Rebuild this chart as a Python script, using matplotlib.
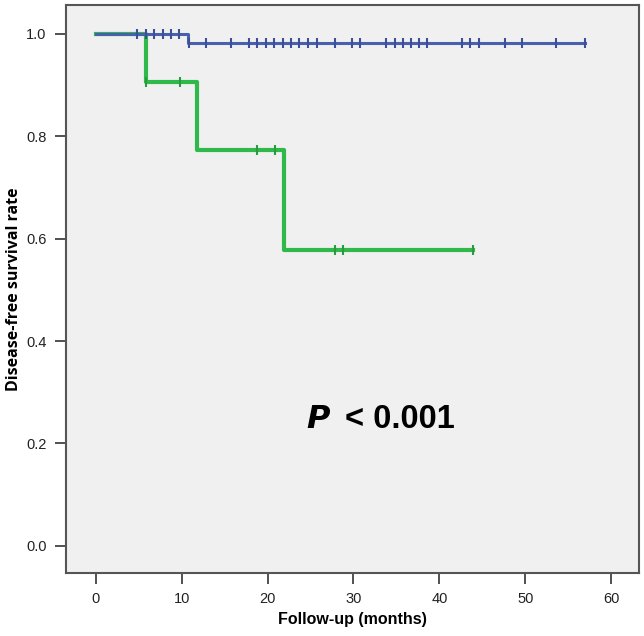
import matplotlib
matplotlib.use("Agg")
import matplotlib.pyplot as plt

# Blue group: step times / survival levels, censor times
blue_step_t = [0, 10.7, 56.9]
blue_step_s = [1.0, 0.982, 0.982]
blue_cens_hi = [4.8, 5.8, 6.8, 7.8, 8.8, 9.7]
blue_cens_lo = [10.9, 12.8, 15.8, 17.8, 18.8, 19.8, 20.8, 21.8, 22.7, 23.7, 24.7, 25.8,
                27.8, 29.8, 30.8, 33.8, 34.8, 35.8, 36.7, 37.6, 38.6, 42.6, 43.6, 44.6,
                47.6, 49.6, 53.6, 56.9]

# Green group
green_step_t = [0, 5.9, 11.8, 21.9, 43.9]
green_step_s = [1.0, 0.905, 0.773, 0.578, 0.578]
green_cens = [(5.9, 0.905), (9.8, 0.905), (18.8, 0.773), (20.9, 0.773),
              (27.8, 0.578), (28.8, 0.578), (43.9, 0.578)]

xticks = [0, 10, 20, 30, 40, 50, 60]
yticks = [0.0, 0.2, 0.4, 0.6, 0.8, 1.0]

blue = "#4a5fae"
green = "#2fb94a"

fig = plt.figure(figsize=(6.44, 6.36), dpi=100)
ax = fig.add_axes([0.1025, 0.099, 0.8893, 0.893])
ax.set_facecolor("#f0f0f0")

ax.step(blue_step_t, blue_step_s, where="post", color=blue, lw=2.2, zorder=3)
ax.plot(blue_cens_hi, [blue_step_s[0]] * len(blue_cens_hi), ls="none", marker="|",
        ms=7, mew=1.5, color="#3d4f99", zorder=4)
ax.plot(blue_cens_lo, [blue_step_s[1]] * len(blue_cens_lo), ls="none", marker="|",
        ms=7, mew=1.5, color="#3d4f99", zorder=4)

ax.step(green_step_t, green_step_s, where="post", color=green, lw=3, zorder=2)
ax.plot([c[0] for c in green_cens], [c[1] for c in green_cens], ls="none", marker="|",
        ms=7, mew=1.5, color="#2a9a40", zorder=2)

ax.set_xlim(-3.46, 63.2)
ax.set_ylim(-0.053, 1.056)
ax.set_xticks(xticks)
ax.set_yticks(yticks)
ax.set_xticklabels([str(v) for v in xticks])
ax.set_yticklabels([f"{v:.1f}" for v in yticks])
ax.tick_params(direction="out", length=8, width=1.2, color="#333333",
               labelsize=10.5, labelcolor="#222222", pad=6)
for lab in ax.get_xticklabels() + ax.get_yticklabels():
    lab.set_family("Liberation Sans")
for sp in ax.spines.values():
    sp.set_color("#555555")
    sp.set_linewidth(1.5)

ax.set_xlabel("Follow-up (months)", fontsize=11.5, fontweight="bold",
              family="Liberation Sans", labelpad=4)
ax.set_ylabel("Disease-free survival rate", fontsize=11.5, fontweight="bold",
              family="Open Sans", labelpad=3)

ax.text(27.4, 0.246, r"$\boldsymbol{P}$", fontsize=23, ha="right", va="center")
ax.text(29.0, 0.246, "< 0.001", fontsize=23.5, fontweight="bold",
        family="Liberation Sans", ha="left", va="center")

fig.savefig("out.png", dpi=100, facecolor="white")
